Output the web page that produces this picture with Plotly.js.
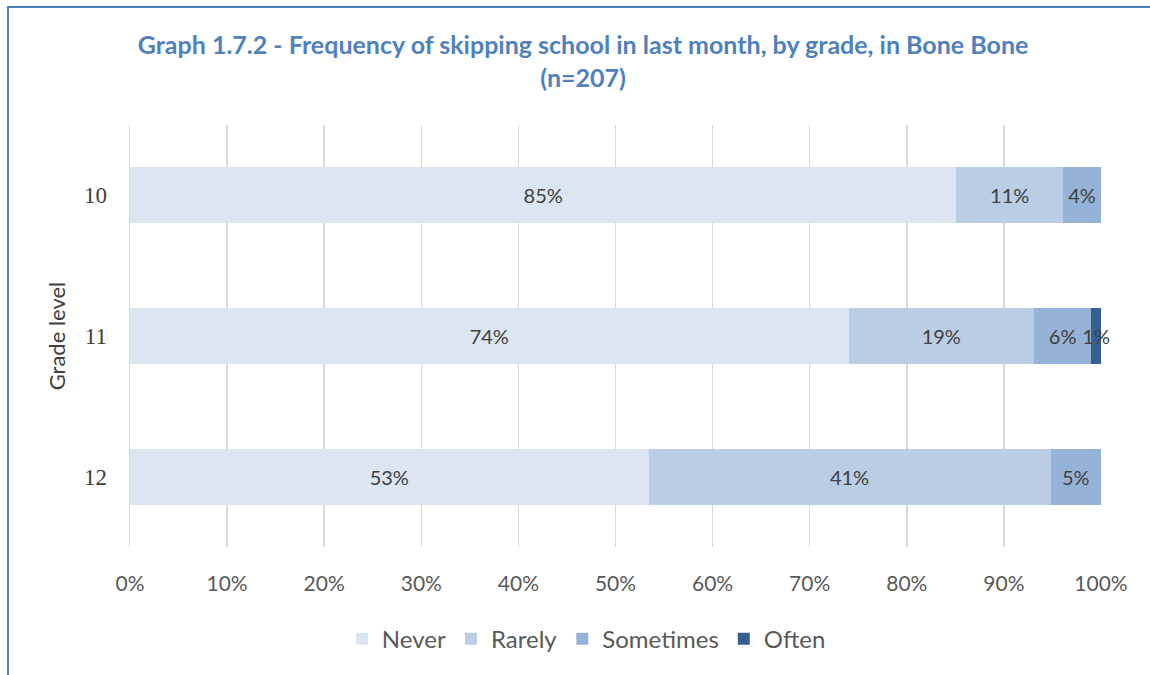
<!DOCTYPE html>
<html>
<head>
<meta charset="utf-8">
<script src="https://cdn.plot.ly/plotly-3.0.1.min.js"></script>
<style>
  html, body { margin: 0; padding: 0; background: #fff; overflow: hidden; }
  #chart { position: absolute; left: 0; top: 0; width: 1150px; height: 675px; }
  #frame { position: absolute; left: 7px; top: 6px; width: 1300px; height: 800px;
           border-left: 2.5px solid #4f81bd; border-top: 2.5px solid #4f81bd;
           pointer-events: none; box-sizing: border-box; }
</style>
</head>
<body>
<div id="chart"></div>
<div id="frame"></div>
<script>
// Data
const grades = ['10', '11', '12'];
const never = [85.1, 74.0, 53.4];
const rarely = [11.0, 19.1, 41.4];
const sometimes = [3.9, 5.9, 5.2];
const often = [0, 1.0, 0];
const xTickVals = [0, 10, 20, 30, 40, 50, 60, 70, 80, 90, 100];
const xTickText = ['0%', '10%', '20%', '30%', '40%', '50%', '60%', '70%', '80%', '90%', '100%'];

const seriesNames = ['Never', 'Rarely', 'Sometimes', 'Often'];
const seriesValues = [never, rarely, sometimes, often];
const seriesColors = ['#dce6f2', '#b9cde5', '#95b3d7', '#376092'];

const labelFont = { family: 'Lato, "Open Sans", sans-serif', size: 20, color: '#404040' };

const traces = seriesNames.map((name, i) => ({
  type: 'bar',
  orientation: 'h',
  name: name,
  y: grades,
  x: seriesValues[i],
  marker: { color: seriesColors[i], line: { width: 0 } },
  text: seriesValues[i].map(v => v > 0 ? Math.round(v) + '%' : ''),
  textposition: 'inside',
  insidetextanchor: 'middle',
  textangle: 0,
  textfont: labelFont,
  insidetextfont: labelFont,
  hoverinfo: 'name+x',
  cliponaxis: false
}));

const layout = {
  width: 1150,
  height: 675,
  paper_bgcolor: '#ffffff',
  plot_bgcolor: '#ffffff',
  barmode: 'stack',
  bargap: 0.6,
  margin: { l: 130, r: 49, t: 125, b: 128 },
  uniformtext: { mode: 'show', minsize: 20 },
  title: {
    text: 'Graph 1.7.2 - Frequency of skipping school in last month, by grade, in Bone Bone<br>(n=207)',
    font: { family: 'Lato, "Open Sans", sans-serif', size: 25, color: '#4f81bd', weight: 'bold' },
    x: 0.507,
    xanchor: 'center',
    y: 0.92,
    yanchor: 'top'
  },
  xaxis: {
    range: [0, 100],
    tickvals: xTickVals,
    ticktext: xTickText,
    showgrid: true,
    gridcolor: '#d9d9d9',
    gridwidth: 1.5,
    zeroline: false,
    showline: false,
    ticks: '',
    ticklabelstandoff: 22,
    tickfont: { family: 'Lato, "Open Sans", sans-serif', size: 21, color: '#595959' },
    fixedrange: true
  },
  yaxis: {
    type: 'category',
    categoryorder: 'array',
    categoryarray: grades,
    autorange: 'reversed',
    showgrid: false,
    zeroline: false,
    showline: true,
    linecolor: '#d9d9d9',
    linewidth: 1.5,
    ticks: '',
    ticklabelstandoff: 17,
    tickfont: { family: '"Liberation Serif", serif', size: 23, color: '#404040' },
    title: {
      text: 'Grade level',
      font: { family: 'Lato, "Open Sans", sans-serif', size: 22, color: '#404040' },
      standoff: 12
    },
    fixedrange: true
  },
  legend: {
    orientation: 'h',
    x: 0.47,
    xanchor: 'center',
    y: -0.165,
    yanchor: 'top',
    font: { family: 'Lato, "Open Sans", sans-serif', size: 24, color: '#595959' },
    traceorder: 'normal',
    itemwidth: 30
  },
  showlegend: true
};

Plotly.newPlot('chart', traces, layout, { displayModeBar: false, staticPlot: true });
</script>
</body>
</html>
